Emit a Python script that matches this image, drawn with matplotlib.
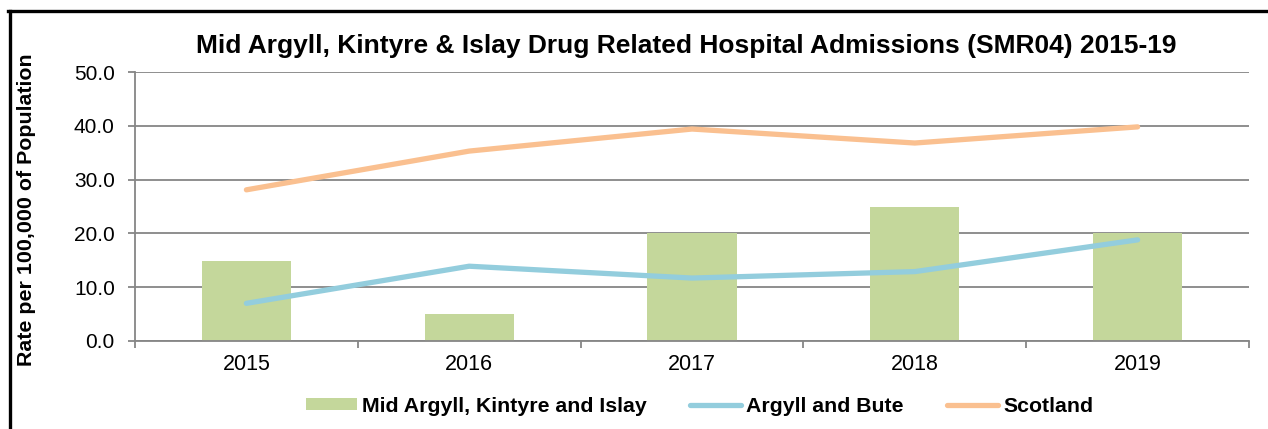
import matplotlib
matplotlib.use("Agg")
import matplotlib.pyplot as plt
from matplotlib.lines import Line2D
from matplotlib.patches import Patch

years = ["2015", "2016", "2017", "2018", "2019"]
mid_argyll = [14.8, 5.0, 20.0, 24.9, 20.0]
argyll_bute = [7.0, 13.9, 11.7, 12.9, 18.8]
scotland = [28.1, 35.3, 39.4, 36.8, 39.8]
series_labels = ['Mid Argyll, Kintyre and Islay', 'Argyll and Bute', 'Scotland']

W, H = 1268, 429
plt.rcParams['font.family'] = ['Liberation Sans', 'DejaVu Sans']
fig = plt.figure(figsize=(W / 100, H / 100), dpi=100)

# frame lines
fig.add_artist(Line2D([9.5 / W, 9.5 / W], [0, 1 - 11 / H], transform=fig.transFigure, color='black', lw=2.4))
fig.add_artist(Line2D([8.3 / W, 1], [1 - 11 / H, 1 - 11 / H], transform=fig.transFigure, color='black', lw=2.4))

left, right, top, bottom = 135, 1249, 72, 341
ax = fig.add_axes([left / W, 1 - bottom / H, (right - left) / W, (bottom - top) / H])

x = list(range(len(years)))
grid_c = '#868686'
bar_c, ab_c, sc_c = '#C4D79B', '#93CDDD', '#FAC090'
ax.bar(x, mid_argyll, width=0.4, color=bar_c, zorder=2)
ax.plot(x, argyll_bute, color=ab_c, lw=3.8, solid_capstyle='round', zorder=3)
ax.plot(x, scotland, color=sc_c, lw=3.8, solid_capstyle='round', zorder=3)

ax.set_xlim(-0.5, len(years) - 0.5)
ax.set_ylim(0, 50)
yt = [0, 10, 20, 30, 40, 50]
ax.set_yticks(yt)
ax.set_yticklabels([f"{v:.1f}" for v in yt], fontsize=15)
ax.set_xticks(x)
ax.set_xticklabels(years, fontsize=15.5)
ax.tick_params(axis='x', length=0, pad=9.4)
ax.set_xticks([i - 0.5 for i in range(len(years) + 1)], minor=True)
ax.tick_params(axis='x', which='minor', length=5, color=grid_c, width=1.3)
ax.tick_params(axis='y', length=5, color=grid_c, width=1.3, pad=9.5)
ax.grid(axis='y', color=grid_c, lw=1.3, zorder=0)
ax.set_axisbelow(True)
for s in ['top', 'right']:
    ax.spines[s].set_visible(False)
for s in ['left', 'bottom']:
    ax.spines[s].set_color(grid_c)
    ax.spines[s].set_linewidth(1.3)

fig.text(686 / W, 1 - 46 / H, "Mid Argyll, Kintyre & Islay Drug Related Hospital Admissions (SMR04) 2015-19",
         ha='center', va='center', fontsize=19, fontweight='bold')
fig.text(27 / W, 1 - 210 / H, "Rate per 100,000 of Population", rotation=90,
         ha='center', va='center', fontsize=15.4, fontweight='bold')

handles = [Patch(facecolor=bar_c, edgecolor='none'),
           Line2D([], [], color=ab_c, lw=3.8, solid_capstyle='round'),
           Line2D([], [], color=sc_c, lw=3.8, solid_capstyle='round')]
starts = [306, 690, 947]
for h, lab, sx in zip(handles, series_labels, starts):
    fig.legend([h], [lab], loc='center left', bbox_to_anchor=(sx / W, 1 - 406 / H),
               frameon=False, borderpad=0, borderaxespad=0,
               prop={'weight': 'bold', 'size': 15.3},
               handlelength=2.4, handletextpad=0.24, handleheight=0.5)

fig.savefig("out.png", dpi=100)
